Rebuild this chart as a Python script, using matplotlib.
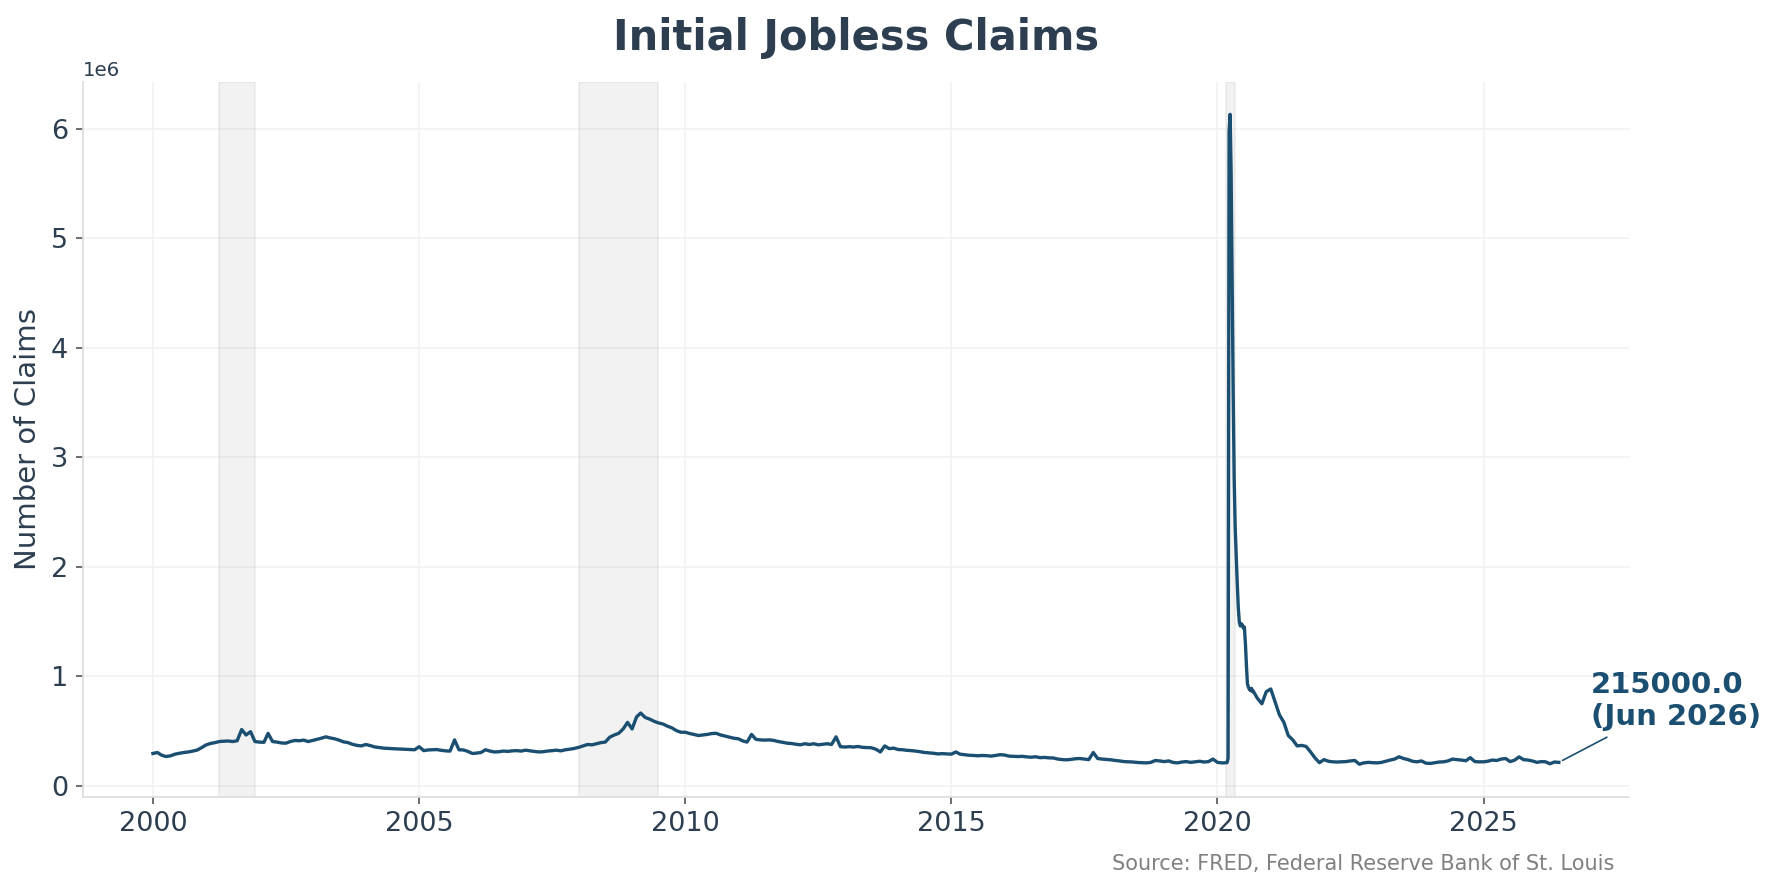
import pandas as pd
import matplotlib
matplotlib.use("Agg")
import matplotlib.pyplot as plt
import matplotlib.dates as mdates

# Initial jobless claims, thousands
# monthly, Jan 2000 - Feb 2020
claims_2000_2020 = [
    296, 305, 280, 268, 275, 290, 298, 305, 310, 318, 328, 350,   # 2000
    375, 388, 395, 405, 408, 410, 405, 412, 515, 465, 495, 405,   # 2001
    400, 398, 480, 405, 400, 392, 390, 405, 415, 412, 418, 405,   # 2002
    415, 425, 435, 448, 438, 430, 418, 402, 395, 380, 370, 365,   # 2003
    378, 368, 356, 350, 345, 342, 340, 338, 336, 335, 332, 330,   # 2004
    358, 322, 328, 330, 332, 325, 320, 318, 420, 330, 328, 315,   # 2005
    296, 300, 305, 330, 318, 310, 312, 318, 315, 320, 322, 318,   # 2006
    326, 320, 315, 310, 312, 318, 322, 326, 320, 330, 335, 342,   # 2007
    352, 365, 378, 375, 385, 395, 400, 445, 465, 480, 520, 580,   # 2008
    520, 630, 665, 625, 610, 590, 575, 565, 545, 530, 505, 490,   # 2009
    490, 478, 470, 460, 465, 470, 478, 480, 465, 455, 445, 435,   # 2010
    430, 410, 400, 470, 425, 420, 418, 420, 415, 405, 398, 390,   # 2011
    387, 380, 375, 385, 378, 385, 375, 380, 385, 378, 448, 358,   # 2012
    355, 358, 355, 360, 352, 350, 348, 335, 310, 365, 340, 345,   # 2013
    332, 330, 325, 322, 318, 312, 305, 302, 298, 292, 295, 292,   # 2014
    290, 310, 290, 285, 280, 278, 275, 278, 276, 272, 278, 285,   # 2015
    282, 272, 270, 268, 270, 265, 262, 266, 258, 260, 256, 255,   # 2016
    245, 240, 238, 242, 248, 250, 245, 240, 305, 250, 245, 242,   # 2017
    238, 232, 228, 222, 220, 218, 214, 212, 210, 215, 232, 228,   # 2018
    222, 228, 215, 210, 218, 222, 215, 220, 225, 218, 222, 245,   # 2019
    215, 210,                                                     # 2020
]

# weekly, 7 Mar 2020 - 29 Aug 2020 (the Covid spike)
claims_2020_weekly = [
    212, 250, 5970, 6130, 5600, 4600, 3600, 2800, 2350, 2100, 1850, 1630, 1500,
    1460, 1480, 1470, 1440, 1450, 1300, 1100, 930, 900, 880, 870, 890, 860,
]

# monthly, Sep 2020 - Jun 2026
claims_2020_2026 = [
    870, 800, 750, 860,                                           # 2020
    885, 760, 650, 580, 460, 420, 365, 370, 360, 310, 255, 212,   # 2021
    240, 225, 220, 218, 220, 222, 228, 232, 198, 210, 215, 212,   # 2022
    210, 215, 225, 236, 245, 266, 250, 240, 225, 220, 228, 208,   # 2023
    205, 212, 218, 220, 228, 245, 240, 236, 230, 258, 222, 220,   # 2024
    220, 226, 236, 232, 245, 250, 222, 235, 265, 240, 236, 228,   # 2025
    215, 222, 220, 202, 218, 215,                                 # 2026
]

# NBER recessions (shaded)
recession_start = ["2001-03-31", "2007-12-31", "2020-02-29"]
recession_end = ["2001-11-30", "2009-06-30", "2020-04-30"]

dates = (list(pd.date_range("2000-01-01", periods=len(claims_2000_2020), freq="MS"))
         + list(pd.date_range("2020-03-07", periods=len(claims_2020_weekly), freq="7D"))
         + list(pd.date_range("2020-09-01", periods=len(claims_2020_2026), freq="MS")))
claims = pd.Series([v * 1000.0 for v in claims_2000_2020 + claims_2020_weekly + claims_2020_2026],
                   index=pd.DatetimeIndex(dates))

dark = "#2c3e50"
line_color = "#1b4f72"

fig = plt.figure(figsize=(1777 / 150, 888 / 150), dpi=150)
ax = fig.add_axes([0.0465, 0.1028, 0.8703, 0.805])

for s, e in zip(recession_start, recession_end):
    ax.axvspan(pd.Timestamp(s), pd.Timestamp(e), color="gray", alpha=0.1)

ax.plot(claims.index, claims.values, color=line_color, lw=1.6)

last_date = claims.index[-1]
last_val = claims.iloc[-1]
ax.annotate(f"{last_val}\n({last_date.strftime('%b %Y')})",
            xy=(last_date, last_val), xytext=(15.5, 15), textcoords="offset points",
            ha="left", va="bottom", fontsize=14, fontweight="bold", color=line_color,
            arrowprops=dict(arrowstyle="-", color=line_color, lw=0.8),
            annotation_clip=False)

ax.xaxis.set_major_locator(mdates.YearLocator(5))
ax.xaxis.set_major_formatter(mdates.DateFormatter("%Y"))

ax.set_title("Initial Jobless Claims", fontsize=20, fontweight="bold", color=dark, pad=15.5)
ax.set_ylabel("Number of Claims", fontsize=14, color=dark)
ax.tick_params(axis="both", labelsize=13, colors="#555555", labelcolor=dark)
ax.yaxis.get_offset_text().set_fontsize(9.5)
ax.yaxis.get_offset_text().set_color(dark)

ax.grid(True, color="#f2f2f2", lw=0.8)
ax.set_axisbelow(True)
for side in ["top", "right"]:
    ax.spines[side].set_visible(False)
for side in ["left", "bottom"]:
    ax.spines[side].set_color("#dddddd")

fig.text(0.9085, 0.0265, "Source: FRED, Federal Reserve Bank of St. Louis",
         fontsize=10, color="gray", ha="right", va="center")

fig.savefig("out.png", dpi=150)
